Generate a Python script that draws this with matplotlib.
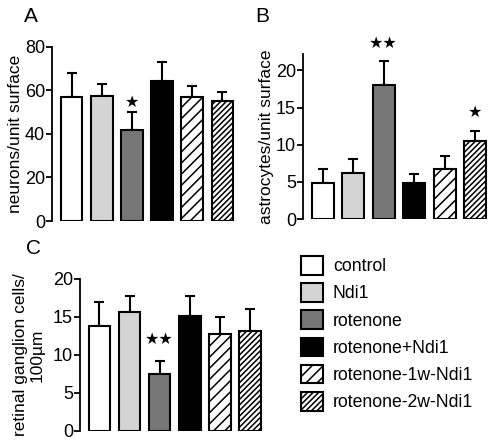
import matplotlib.pyplot as plt
from matplotlib.patches import Patch

plt.rcParams["font.family"] = ["Liberation Sans", "DejaVu Sans"]
plt.rcParams["hatch.linewidth"] = 1.1

groups = ["control", "Ndi1", "rotenone", "rotenone+Ndi1",
          "rotenone-1w-Ndi1", "rotenone-2w-Ndi1"]
colors = ["white", "#d4d4d4", "#777777", "black", "white", "white"]
hatches = [None, None, None, None, "///", "//////"]

neurons = [57.0, 57.5, 42.0, 64.4, 57.0, 54.9]
neurons_err = [11.0, 5.6, 8.1, 8.7, 5.2, 4.4]
neurons_sig = ["", "", "★", "", "", ""]

astro = [4.9, 6.2, 18.1, 4.9, 6.7, 10.5]
astro_err = [1.9, 1.9, 3.15, 1.1, 1.8, 1.4]
astro_sig = ["", "", "★★", "", "", "★"]

rgc = [13.8, 15.7, 7.5, 15.1, 12.8, 13.2]
rgc_err = [3.2, 2.1, 1.7, 2.7, 2.2, 2.8]
rgc_sig = ["", "", "★★", "", "", ""]

fig = plt.figure(figsize=(4.9, 4.42), dpi=100)


def panel(rect, vals, errs, sig, ymax, yticks, ylabel, sig_off, lpad):
    ax = fig.add_axes(rect)
    x = list(range(len(vals)))
    ax.bar(x, vals, width=0.72, color=colors, edgecolor="black",
           linewidth=1.5, hatch=hatches, zorder=2)
    ax.errorbar(x, vals, yerr=[[0] * len(errs), errs], fmt="none",
                ecolor="black", elinewidth=1.5, capsize=3.5, capthick=1.5,
                zorder=1)
    for xi, v, e, s in zip(x, vals, errs, sig):
        if s:
            ax.text(xi, v + e + sig_off, s, ha="center", va="center",
                    fontsize=11.5, family=["DejaVu Sans"])
    ax.set_xlim(-0.65, 5.6)
    ax.set_ylim(0, ymax)
    ax.set_yticks(yticks)
    ax.set_xticks([])
    for sp in ["top", "right", "bottom"]:
        ax.spines[sp].set_visible(False)
    ax.spines["left"].set_linewidth(1.3)
    ax.tick_params(axis="y", length=4, width=1.3, labelsize=13, pad=1)
    ax.set_ylabel(ylabel, fontsize=12.5, labelpad=lpad, linespacing=1.1)
    ax.patch.set_alpha(0)
    return ax


axA = panel([0.106, 0.5, 0.385, 0.394], neurons, neurons_err, neurons_sig,
            80, [0, 20, 40, 60, 80], "neurons/unit surface", 4.5, 1)
axB = panel([0.618, 0.5045, 0.389, 0.373], astro, astro_err, astro_sig,
            22.2, [0, 5, 10, 15, 20], "astrocytes/unit surface", 2.4, 1)
axC = panel([0.163, 0.025, 0.384, 0.344], rgc, rgc_err, rgc_sig,
            20, [0, 5, 10, 15, 20], "retinal ganglion cells/\n100µm", 2.8, 6)

fig.text(31 / 490, 1 - 16 / 442, "A", fontsize=15, ha="center", va="center")
fig.text(262 / 490, 1 - 16 / 442, "B", fontsize=15, ha="center", va="center")
fig.text(33 / 490, 1 - 248 / 442, "C", fontsize=15, ha="center", va="center")

handles = [Patch(facecolor=c, edgecolor="black", linewidth=1.5, hatch=h)
           for c, h in zip(colors, hatches)]
fig.legend(handles, groups, loc="upper left",
           bbox_to_anchor=(301 / 490, 1 - 256 / 442), frameon=False,
           fontsize=12.7, handlelength=1.25, handleheight=1.25,
           handletextpad=0.55, labelspacing=0.45, borderpad=0,
           borderaxespad=0)

fig.savefig("out.png", dpi=100)
